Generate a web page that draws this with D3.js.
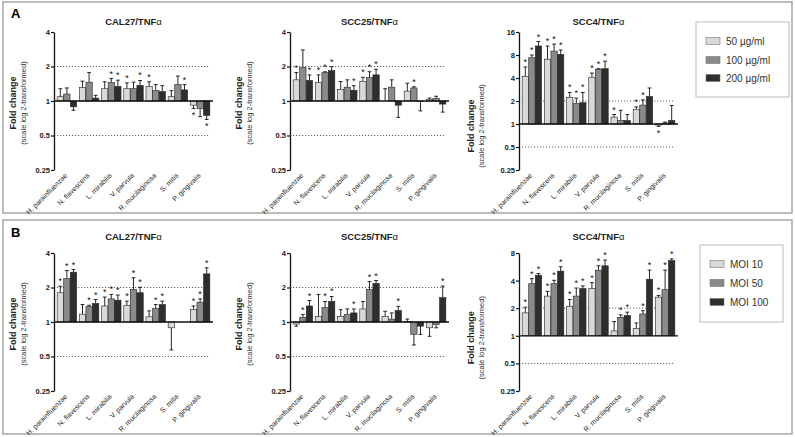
<!DOCTYPE html>
<html>
<head>
<meta charset="utf-8">
<script src="https://cdn.jsdelivr.net/npm/d3@7"></script>
<style>
  body { margin: 0; background: #fff; }
  svg { display: block; font-family: Arial, "Liberation Sans", Helvetica, sans-serif; }
</style>
</head>
<body>
<div id="fig"></div>
<script>
// categories and legend labels
const categories = ["H. parainfluenzae", "N. flavescens", "L. mirabilis", "V. parvula",
  "R. mucilaginosa", "S. mitis", "P. gingivalis"];
const doseLabels = ["50 \u00b5g/ml", "100 \u00b5g/ml", "200 \u00b5g/ml"];
const moiLabels = ["MOI 10", "MOI 50", "MOI 100"];

// panel A - mean fold change per category [50, 100, 200 ug/ml]
const cal27A = [[1.09, 1.15, 0.89], [1.31, 1.46, 1.06], [1.28, 1.45, 1.34], [1.28, 1.28, 1.37],
  [1.34, 1.23, 1.21], [1.09, 1.39, 1.25], [0.92, 0.86, 0.75]];
const cal27AErr = [[1.28, 1.30, 0.83], [1.49, 1.77, 1.12], [1.47, 1.57, 1.52], [1.44, 1.46, 1.51],
  [1.47, 1.39, 1.36], [1.23, 1.65, 1.39], [0.86, 0.73, 0.69]];
const cal27ASig = [[0, 0, 0], [0, 0, 0], [0, 1, 1], [1, 0, 1], [1, 0, 0], [0, 0, 1], [1, 0, 1]];

const scc25A = [[1.53, 1.96, 1.51], [1.45, 1.77, 1.84], [1.26, 1.32, 1.24], [1.48, 1.60, 1.69],
  [1.0, 1.32, 0.92], [1.22, 1.30, 0.99], [1.03, 1.05, 0.94]];
const scc25AErr = [[1.77, 2.79, 1.69], [1.69, 1.80, 1.99], [1.48, 1.53, 1.36], [1.61, 1.80, 1.89],
  [1.28, 1.53, 0.72], [1.43, 1.33, 0.82], [1.06, 1.10, 0.80]];
const scc25ASig = [[1, 0, 1], [1, 1, 1], [0, 0, 1], [1, 1, 1], [0, 0, 0], [0, 1, 0], [0, 0, 0]];

const scc4A = [[4.19, 7.36, 10.5], [7.05, 9.0, 8.15], [2.22, 1.85, 1.90], [4.1, 5.19, 5.3],
  [1.23, 1.11, 1.11], [1.55, 1.77, 2.29], [0.97, 1.03, 1.11]];
const scc4AErr = [[5.57, 8.0, 12.0], [10.5, 11.1, 9.3], [2.59, 2.18, 2.59], [4.64, 5.3, 6.64],
  [1.33, 1.51, 1.33], [1.67, 2.07, 2.96], [0.93, 1.06, 1.75]];
const scc4ASig = [[1, 1, 1], [1, 1, 1], [1, 1, 1], [1, 1, 1], [1, 0, 0], [1, 1, 0], [1, 0, 0]];

// panel B - mean fold change per category [MOI 10, 50, 100]
const cal27B = [[1.80, 2.39, 2.72], [1.17, 1.36, 1.45], [1.38, 1.59, 1.55], [1.40, 1.92, 1.80],
  [1.11, 1.31, 1.42], [0.89, null, null], [1.29, 1.49, 2.63]];
const cal27BErr = [[2.05, 2.81, 2.87], [1.42, 1.40, 1.57], [1.65, 1.74, 1.72], [1.52, 2.43, 2.01],
  [1.25, 1.42, 1.52], [0.57, null, null], [1.38, 1.59, 2.97]];
const cal27BSig = [[1, 1, 1], [0, 1, 1], [1, 1, 1], [1, 1, 1], [0, 1, 1], [0, 0, 0], [1, 1, 1]];

const scc25B = [[0.96, 1.10, 1.38], [1.12, 1.34, 1.51], [1.12, 1.16, 1.20], [1.30, 1.93, 2.17],
  [1.12, 1.06, 1.26], [1.01, 0.78, 0.92], [0.89, 0.95, 1.63]];
const scc25BErr = [[0.92, 1.16, 1.54], [1.74, 1.51, 1.67], [1.28, 1.30, 1.30], [1.51, 2.25, 2.30],
  [1.24, 1.20, 1.37], [1.06, 0.63, 0.78], [0.75, 0.89, 2.06]];
const scc25BSig = [[0, 1, 1], [0, 1, 1], [0, 0, 1], [0, 1, 1], [0, 0, 1], [0, 0, 0], [0, 0, 1]];

const scc4B = [[1.78, 3.7, 4.58], [2.71, 3.7, 5.07], [2.10, 2.71, 3.27], [3.27, 5.2, 5.8],
  [1.13, 1.59, 1.66], [1.2, 1.73, 4.14], [2.64, 3.18, 6.6]];
const scc4BErr = [[2.05, 4.2, 4.78], [3.05, 4.03, 5.66], [2.49, 3.32, 3.5], [3.8, 5.8, 6.7],
  [1.43, 1.69, 1.81], [1.38, 1.88, 5.2], [2.76, 5.2, 6.9]];
const scc4BSig = [[1, 1, 1], [1, 1, 1], [1, 1, 1], [1, 1, 1], [0, 1, 1], [0, 1, 1], [1, 1, 1]];

const ticks4 = [0.25, 0.5, 1, 2, 4];
const ticks8 = [0.25, 0.5, 1, 2, 4, 8];
const ticks16 = [0.25, 0.5, 1, 2, 4, 8, 16];

const colors = ["#d9d9d9", "#8a8a8a", "#2e2e2e"];

const width = 795, height = 437;
const chartW = 159;

const svg = d3.select("#fig").append("svg")
  .attr("width", width)
  .attr("height", height);

// panel frames
[[3, 2, 789, 211], [3, 220, 789, 214]].forEach(([x, y, w, h]) => {
  svg.append("rect")
    .attr("x", x).attr("y", y).attr("width", w).attr("height", h)
    .style("fill", "none").style("stroke", "#a6a6a6").style("stroke-width", 1.5);
});
svg.append("text").attr("x", 11).attr("y", 18).style("font-size", "13px").style("font-weight", "bold").text("A");
svg.append("text").attr("x", 11).attr("y", 237).style("font-size", "13px").style("font-weight", "bold").text("B");

const charts = [
  { x: 54, top: 32, bottom: 170, ticks: ticks4, title: "CAL27/TNF", titleY: 25, ytx: 16, mean: cal27A, err: cal27AErr, sig: cal27ASig },
  { x: 290, top: 32, bottom: 170, ticks: ticks4, title: "SCC25/TNF", titleY: 25, ytx: 242, mean: scc25A, err: scc25AErr, sig: scc25ASig },
  { x: 519, top: 32, bottom: 170, ticks: ticks16, title: "SCC4/TNF", titleY: 25, ytx: 474, mean: scc4A, err: scc4AErr, sig: scc4ASig },
  { x: 54, top: 253, bottom: 391, ticks: ticks4, title: "CAL27/TNF", titleY: 240, ytx: 16, mean: cal27B, err: cal27BErr, sig: cal27BSig },
  { x: 290, top: 253, bottom: 391, ticks: ticks4, title: "SCC25/TNF", titleY: 240, ytx: 242, mean: scc25B, err: scc25BErr, sig: scc25BSig },
  { x: 519, top: 253, bottom: 391, ticks: ticks8, title: "SCC4/TNF", titleY: 240, ytx: 474, mean: scc4B, err: scc4BErr, sig: scc4BSig }
];

function drawChart(c) {
  const g = svg.append("g");

  const y = d3.scaleLog().base(2)
    .domain([0.25, d3.max(c.ticks)])
    .range([c.bottom, c.top]);

  const x0 = d3.scaleBand()
    .domain(categories)
    .range([c.x, c.x + chartW])
    .paddingInner(0.1)
    .paddingOuter(0.13);

  const x1 = d3.scaleBand()
    .domain([0, 1, 2])
    .range([0, x0.bandwidth()])
    .padding(0.04);

  // dotted reference lines at 2 and 0.5
  [2, 0.5].forEach(v => {
    g.append("line")
      .attr("x1", c.x).attr("x2", c.x + chartW - 4)
      .attr("y1", y(v)).attr("y2", y(v))
      .style("stroke", "#555")
      .style("stroke-width", 0.9)
      .style("stroke-dasharray", "1.2,1.8");
  });

  // bars, error bars, asterisks
  categories.forEach((cat, i) => {
    [0, 1, 2].forEach(j => {
      const v = c.mean[i][j];
      if (v == null) return;
      const e = c.err[i][j];
      const bx = x0(cat) + x1(j);
      const bw = x1.bandwidth();
      const cx = bx + bw / 2;
      const y1 = y(1), yv = y(v), ye = y(e);

      g.append("line")
        .attr("x1", cx).attr("x2", cx)
        .attr("y1", yv).attr("y2", ye)
        .style("stroke", "#111").style("stroke-width", 0.9);
      g.append("line")
        .attr("x1", cx - bw * 0.3).attr("x2", cx + bw * 0.3)
        .attr("y1", ye).attr("y2", ye)
        .style("stroke", "#111").style("stroke-width", 0.9);

      g.append("rect")
        .attr("x", bx)
        .attr("y", Math.min(yv, y1))
        .attr("width", bw)
        .attr("height", Math.abs(yv - y1))
        .style("fill", colors[j])
        .style("stroke", "#222")
        .style("stroke-width", 0.6);

      if (c.sig[i][j]) {
        g.append("text")
          .attr("x", cx)
          .attr("y", v >= 1 ? ye - 2 : ye + 9.5)
          .style("text-anchor", "middle")
          .style("font-size", "9px")
          .style("fill", "#111")
          .text("*");
      }
    });
  });

  // baseline at 1
  g.append("line")
    .attr("x1", c.x).attr("x2", c.x + chartW)
    .attr("y1", y(1)).attr("y2", y(1))
    .style("stroke", "#111").style("stroke-width", 1.3);

  // y axis
  const axis = g.append("g")
    .attr("transform", `translate(${c.x},0)`)
    .call(d3.axisLeft(y).tickValues(c.ticks).tickFormat(d => d).tickSize(3).tickSizeOuter(0));
  axis.select(".domain").style("stroke", "#111").style("stroke-width", 1.3);
  axis.selectAll(".tick line").style("stroke", "#111").style("stroke-width", 1.2);
  axis.selectAll(".tick text")
    .attr("x", -4)
    .style("font-size", "7.5px")
    .style("font-weight", "bold")
    .style("font-family", "Arial, 'Liberation Sans', sans-serif")
    .style("fill", "#222");

  // title
  const t = g.append("text")
    .attr("x", c.x + chartW / 2)
    .attr("y", c.titleY)
    .style("text-anchor", "middle")
    .style("font-size", "9.5px")
    .style("font-weight", "bold")
    .style("fill", "#222")
    .text(c.title);
  t.append("tspan").style("font-weight", "normal").text("\u03b1");

  // y axis title
  const yc = y(1) + 2;
  g.append("text")
    .attr("transform", `translate(${c.ytx},${yc}) rotate(-90)`)
    .style("text-anchor", "middle")
    .style("font-size", "9px")
    .style("font-weight", "bold")
    .style("fill", "#222")
    .text("Fold  change");
  g.append("text")
    .attr("transform", `translate(${c.ytx + 10},${yc}) rotate(-90)`)
    .style("text-anchor", "middle")
    .style("font-size", "7.5px")
    .style("fill", "#333")
    .text("(scale log 2-transformed)");

  // category labels
  categories.forEach(cat => {
    const lx = x0(cat) + x0.bandwidth() / 2 + 1;
    const ly = c.bottom + 6;
    g.append("text")
      .attr("transform", `translate(${lx},${ly}) rotate(-45)`)
      .style("text-anchor", "end")
      .style("font-size", "7px")
      .style("fill", "#222")
      .text(cat);
  });
}

charts.forEach(drawChart);

// legends
function drawLegend(bx, by, bw, bh, labels, rowY) {
  const g = svg.append("g");
  g.append("rect")
    .attr("x", bx).attr("y", by).attr("width", bw).attr("height", bh)
    .style("fill", "#fff").style("stroke", "#bbb").style("stroke-width", 1);
  labels.forEach((lab, i) => {
    g.append("rect")
      .attr("x", bx + 10).attr("y", rowY[i] - 3.5)
      .attr("width", 14).attr("height", 7)
      .style("fill", colors[i]).style("stroke", "#777").style("stroke-width", 0.6);
    g.append("text")
      .attr("x", bx + 30).attr("y", rowY[i] + 3.5)
      .style("font-size", "10px")
      .style("fill", "#333")
      .text(lab);
  });
}

drawLegend(696, 22, 93, 75, doseLabels, [41, 60, 78]);
drawLegend(700, 245, 83, 77, moiLabels, [264, 283, 302]);
</script>
</body>
</html>
